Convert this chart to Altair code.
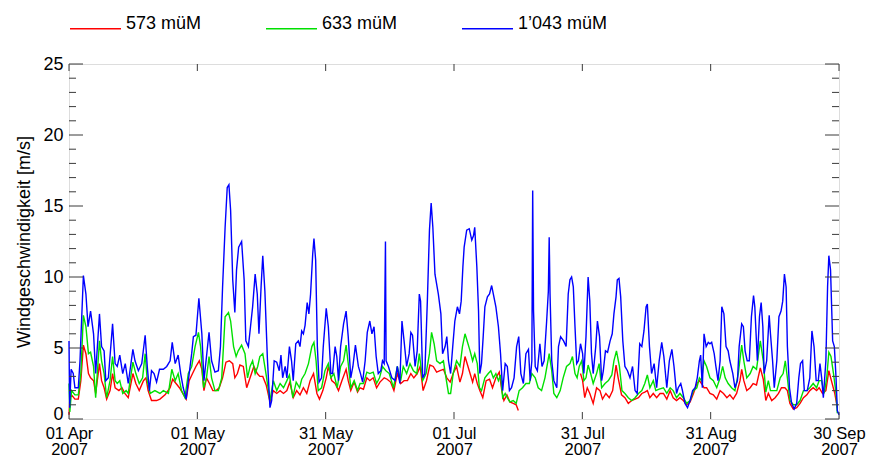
import json
import altair as alt
import pandas as pd

# ---------------- data ----------------
series_names = ["573 müM", "633 müM", "1’043 müM"]
series_colors = ["#ff0000", "#00e000", "#0000ff"]

# days since 01 Apr 2007 00:00
red_days = [0.0, 0.2, 0.6, 1.4, 2.2, 2.8, 3.4, 4.0, 4.6, 5.1, 5.8, 6.3, 7.2, 7.7, 8.3, 8.9, 9.7, 10.3, 10.9, 11.8,
            12.5, 13.2, 14.0, 15.1, 15.8, 16.6, 17.6, 18.2, 18.7, 19.5, 20.7, 21.5, 22.7, 23.9, 24.5, 25.3, 26.1, 26.9,
            27.7, 28.4, 29.2, 30.0, 30.8, 31.4, 31.9, 32.5, 33.2, 34.0, 34.8, 35.5, 36.3, 37.1, 37.9, 38.7, 39.2, 39.8,
            40.4, 41.2, 42.0, 42.8, 43.7, 44.5, 45.1, 45.8, 46.6, 47.5, 48.3, 49.1, 49.9, 50.7, 51.5, 52.2, 53.0, 53.8,
            54.6, 55.4, 56.2, 57.0, 57.8, 58.6, 59.2, 60.0, 60.8, 61.3, 62.1, 62.9, 63.7, 64.5, 65.5, 66.0, 66.6, 67.4,
            68.2, 68.8, 69.6, 70.4, 71.1, 71.9, 72.7, 73.5, 74.5, 75.2, 76.0, 76.8, 77.6, 78.4, 79.2, 80.0, 80.8, 81.5,
            82.3, 83.0, 83.7, 84.5, 85.3, 86.1, 86.9, 87.7, 88.5, 89.3, 90.1, 90.8, 91.6, 92.4, 93.0, 93.6, 94.2, 94.8,
            95.4, 95.9, 96.5, 97.1, 97.8, 98.6, 99.4, 100.1, 100.9, 101.7, 102.3, 102.8, 103.5, 104.2, 105.0, 105.7,
            106.2,
            120.9, 121.4, 121.9, 122.5, 123.1, 123.9, 124.7, 125.5, 126.1, 126.9, 127.7, 128.5, 129.3, 129.8, 130.6,
            131.4, 132.2, 133.0, 133.8, 134.6, 135.4, 136.1, 136.7, 137.3, 138.1, 138.9, 139.7, 140.5, 141.3, 142.1,
            142.8, 143.6, 144.4, 145.2, 146.0, 146.8, 147.6, 148.4, 149.0, 149.5, 150.1, 150.7, 151.5, 152.3, 153.1,
            153.9, 154.7, 155.5, 156.2, 157.0, 157.8, 158.6, 159.0, 159.5, 160.2, 161.0, 161.7, 162.5, 163.4, 164.1,
            164.7, 165.3, 166.1, 166.9, 167.7, 168.4, 169.2, 169.8, 170.4, 171.2, 172.0, 172.8, 173.6, 174.4, 175.1,
            175.9, 176.7, 177.3, 178.1, 178.9, 179.6, 180.2, 181.0, 181.6]
red_vals = [0.3, 1.5, 1.7, 1.4, 1.4, 2.7, 5.2, 4.6, 3.2, 2.9, 2.7, 1.8, 3.9, 2.7, 2.2, 1.4, 2.0, 3.2, 2.2, 2.0,
            2.2, 1.8, 1.5, 3.2, 2.5, 2.0, 2.7, 2.9, 2.0, 1.3, 1.3, 1.4, 1.7, 2.2, 2.8, 2.5, 2.2, 1.8,
            1.4, 2.7, 3.2, 3.7, 4.1, 3.5, 2.0, 2.9, 2.5, 2.0, 2.0, 2.2, 2.9, 4.0, 4.1, 3.9, 2.9, 3.2,
            3.8, 3.7, 2.2, 2.9, 3.7, 3.2, 3.0, 3.0, 2.4, 1.2, 2.0, 1.8, 2.0, 1.8, 2.0, 2.6, 1.5, 2.0,
            1.7, 2.2, 1.8, 2.7, 3.2, 1.8, 1.4, 2.0, 2.9, 3.7, 2.7, 2.5, 2.0, 2.7, 3.5, 2.7, 2.0, 2.6,
            1.9, 2.2, 2.1, 2.9, 2.7, 2.9, 2.2, 2.6, 2.9, 2.8, 2.6, 2.0, 3.2, 2.5, 2.7, 2.7, 3.2, 2.9,
            3.2, 3.7, 2.0, 2.7, 3.8, 3.7, 3.3, 3.4, 3.5, 2.9, 2.6, 3.2, 3.7, 2.6, 3.2, 4.4, 3.8, 3.2,
            2.6, 3.2, 2.5, 2.0, 1.5, 2.7, 2.8, 2.2, 2.9, 3.3, 2.0, 1.3, 1.7, 1.2, 1.1, 1.0,
            0.6,
            3.2, 2.7, 1.5, 2.2, 1.8, 1.1, 2.2, 2.0, 1.4, 1.8, 1.5, 2.0, 3.8, 2.9, 1.7,
            1.5, 1.1, 1.3, 1.4, 1.5, 1.8, 1.9, 2.0, 1.5, 1.8, 1.5, 1.8, 1.8, 1.4, 2.0,
            1.5, 1.3, 1.5, 1.3, 1.0, 1.2, 1.8, 2.5, 2.7, 2.5, 2.2, 2.2, 1.8, 1.7, 1.4,
            2.0, 1.8, 1.5, 1.7, 1.4, 1.8, 2.7, 3.5, 2.7, 2.0, 2.2, 2.5, 2.4, 3.6, 2.8,
            1.3, 1.8, 1.3, 1.5, 1.8, 2.2, 2.2, 2.0, 1.1, 0.7, 0.8, 1.1, 1.5, 1.7, 2.0,
            2.2, 2.0, 2.2, 1.8, 2.0, 3.4, 2.7, 1.8, 0.8]

green_days = [0.0, 0.2, 0.6, 1.4, 2.2, 2.8, 3.4, 4.0, 4.6, 5.1, 5.8, 6.3, 7.2, 7.7, 8.3, 8.9, 9.7, 10.3, 10.9, 11.4,
              12.0, 12.7, 13.5, 14.0, 15.1, 15.8, 16.6, 17.4, 18.0, 18.5, 19.2, 20.3, 21.5, 22.3, 23.5, 24.3, 25.1,
              25.8, 26.6, 27.4, 28.2, 29.0, 29.8, 30.6, 31.1, 31.8, 32.5, 33.1, 33.7, 34.5, 35.3, 36.1, 36.9, 37.7,
              38.2, 38.9, 39.5, 40.0, 40.8, 41.6, 42.2, 42.8, 43.4, 44.0, 44.6, 45.1, 45.8, 46.5, 47.5, 48.3, 49.1,
              49.9, 50.7, 51.5, 52.1, 52.9, 53.7, 54.5, 55.0, 55.8, 56.6, 57.4, 57.9, 58.4, 58.9, 59.7, 60.5, 61.3,
              61.9, 62.6, 63.4, 64.2, 64.9, 65.5, 66.0, 66.6, 67.4, 68.2, 68.8, 69.6, 70.4, 71.1, 71.9, 72.7, 73.4,
              74.1, 74.9, 75.7, 76.7, 77.6, 78.4, 79.0, 79.8, 80.6, 81.4, 82.2, 82.8, 83.6, 84.4, 85.2, 85.7, 86.3,
              86.9, 87.7, 88.5, 89.1, 89.7, 90.2, 90.8, 91.6, 92.4, 93.0, 93.6, 94.2, 94.8, 95.4, 95.9, 96.5, 97.0,
              97.5, 98.3, 99.1, 99.7, 100.3, 100.9, 101.5, 102.0, 102.5, 103.1, 103.6, 104.2, 105.0, 105.7, 106.4,
              107.2, 108.0, 108.8, 109.4, 110.2, 110.9, 111.7, 112.5, 113.5, 114.1, 114.6, 115.3, 116.1, 116.8,
              117.6, 118.4, 119.0, 119.6, 120.1, 120.6, 121.2, 121.7, 122.2, 122.7, 123.3, 123.9, 124.7, 125.3,
              125.9, 126.7, 127.5, 128.3, 128.8, 129.4, 130.1, 130.7, 131.4, 132.2, 133.0, 133.8, 134.6, 135.4,
              136.1, 136.7, 137.3, 138.1, 138.7, 139.5, 140.5, 141.3, 142.1, 142.8, 143.6, 144.4, 145.2, 146.0,
              146.8, 147.6, 148.4, 149.0, 149.5, 150.1, 150.7, 151.5, 152.3, 153.1, 153.9, 154.5, 155.1, 155.8,
              156.6, 157.4, 158.2, 159.0, 159.5, 160.2, 161.0, 161.7, 162.5, 163.4, 164.1, 164.7, 165.3, 165.8,
              166.5, 167.3, 168.1, 168.8, 169.3, 169.8, 170.4, 171.2, 172.0, 172.8, 173.6, 174.4, 175.1, 175.9,
              176.7, 177.3, 177.9, 178.5, 179.1, 179.6, 180.1, 180.7, 181.3, 181.6]
green_vals = [2.5, 0.5, 2.0, 1.7, 1.7, 3.2, 7.3, 6.5, 4.6, 4.7, 3.7, 1.5, 5.5, 4.1, 3.2, 1.5, 2.7, 4.4, 2.7, 2.5,
              2.7, 1.8, 2.0, 1.8, 4.0, 3.2, 2.5, 2.9, 4.6, 2.7, 1.8, 2.0, 1.8, 2.0, 1.8, 3.5, 2.7,
              3.2, 2.0, 1.5, 3.2, 3.7, 5.1, 6.1, 5.1, 2.2, 2.9, 4.4, 2.9, 2.0, 2.0, 2.9, 7.2, 7.5,
              6.9, 5.1, 4.4, 4.8, 5.2, 4.6, 2.9, 3.7, 4.1, 3.2, 3.7, 4.4, 4.6, 3.3, 1.3, 2.7, 2.0,
              2.5, 2.2, 2.7, 3.1, 1.5, 2.6, 2.2, 2.8, 3.2, 3.9, 5.1, 5.4, 4.1, 2.0, 2.2, 3.4, 3.9,
              2.9, 3.2, 2.2, 3.7, 4.1, 5.2, 3.9, 2.2, 2.7, 2.0, 2.5, 2.5, 3.3, 3.2, 3.3, 2.5, 2.9,
              3.7, 3.4, 3.2, 2.2, 3.7, 2.7, 3.7, 3.2, 3.9, 3.4, 3.2, 4.6, 2.7, 3.2, 4.6, 6.1, 5.3,
              4.1, 3.9, 4.1, 2.9, 1.8, 1.8, 3.2, 4.1, 3.7, 5.1, 6.0, 5.4, 4.8, 4.1, 4.6, 3.9, 2.2,
              2.0, 2.9, 3.2, 3.4, 2.9, 3.2, 2.7, 3.1, 1.5, 1.8, 1.5, 1.2, 1.3, 1.1, 2.0,
              2.2, 2.5, 2.5, 3.2, 2.9, 2.2, 2.0, 2.9, 4.6, 3.4, 1.8, 1.5, 2.0, 2.9,
              3.7, 3.9, 4.4, 3.2, 2.9, 3.7, 4.1, 2.7, 2.9, 3.8, 3.2, 2.5, 3.2, 3.9,
              2.2, 2.5, 2.7, 3.1, 4.1, 4.8, 3.7, 2.0, 1.8, 1.5, 1.3, 1.5, 1.8, 2.0,
              2.5, 3.1, 2.2, 2.7, 2.0, 2.1, 2.2, 1.8, 2.2, 2.0, 1.5, 1.8, 1.5, 1.1,
              1.3, 2.0, 2.2, 2.9, 2.7, 4.1, 3.7, 2.9, 2.7, 2.2, 2.9, 3.7, 2.9, 2.5,
              2.2, 2.0, 3.2, 5.2, 4.1, 2.9, 3.2, 3.7, 3.5, 5.5, 4.1, 1.9, 2.7, 2.0,
              2.0, 2.0, 2.9, 3.2, 4.1, 2.9, 1.3, 1.0, 1.0, 1.3, 2.0, 2.0, 2.2, 2.5,
              2.2, 2.7, 2.7, 1.8, 2.9, 4.7, 4.4, 3.2, 1.8, 0.4]

blue_days = [0.0, 0.15, 0.5, 1.0, 1.4, 2.2, 2.6, 3.4, 4.0, 4.5, 5.1, 5.8, 6.3, 7.2, 7.7, 8.3, 8.7, 9.3, 10.3, 10.9,
             11.4, 12.0, 12.7, 13.3, 14.0, 15.1, 15.6, 16.4, 17.2, 18.0, 18.5, 19.0, 19.5, 20.1, 20.7, 21.4, 22.3,
             23.1, 23.9, 24.4, 25.1, 25.8, 26.4, 27.0, 27.7, 28.2, 29.0, 29.4, 30.0, 30.7, 31.4, 31.9, 32.5, 33.1,
             33.7, 34.5, 35.3, 35.8, 36.3, 36.9, 37.4, 37.8, 38.2, 38.7, 39.2, 39.6, 40.1, 40.8, 41.4, 41.8, 42.4,
             42.9, 43.4, 44.0, 44.5, 44.9, 45.4, 45.8, 46.3, 46.9, 47.5, 47.9, 48.5, 49.1, 49.7, 50.1, 50.5, 51.1,
             51.5, 52.1, 52.6, 53.0, 53.6, 54.2, 54.6, 55.0, 55.4, 55.8, 56.3, 56.7, 57.1, 57.6, 57.9, 58.3, 58.7,
             59.1, 59.7, 60.1, 60.8, 61.3, 61.9, 62.3, 62.9, 63.3, 63.7, 64.2, 64.9, 65.5, 66.0, 66.6, 67.1, 67.7,
             68.4, 68.9, 69.4, 70.0, 70.5, 71.1, 71.6, 72.1, 72.6, 73.1, 73.7, 74.1, 74.5, 74.8, 74.95, 75.5, 76.3,
             77.1, 77.6, 78.2, 78.7, 79.2, 79.8, 80.4, 80.8, 81.2, 81.8, 82.3, 82.8, 83.1, 83.6, 84.1, 84.7, 85.2,
             85.6, 86.0, 86.5, 87.3, 87.9, 88.3, 88.9, 89.3, 89.7, 90.2, 90.7, 91.2, 91.8, 92.3, 92.7, 93.1, 93.4,
             94.0, 94.6, 95.2, 95.6, 95.9, 96.4, 96.8, 97.1, 97.5, 97.9, 98.3, 98.9, 99.4, 99.9, 100.3, 100.9,
             101.5, 102.0, 102.5, 103.1, 103.6, 104.1, 104.6, 105.2, 105.8, 106.3, 106.8, 107.4, 108.0, 108.6,
             109.0, 109.4, 109.6, 109.8, 110.2, 110.7, 111.3, 111.8, 112.3, 112.9, 113.3, 113.5, 113.7, 114.1,
             114.6, 115.3, 115.7, 116.2, 116.9, 117.5, 118.0, 118.4, 118.8, 119.2, 119.6, 120.0, 120.4, 120.9,
             121.4, 121.7, 122.2, 122.7, 123.1, 123.5, 123.9, 124.5, 124.9, 125.4, 125.9, 126.3, 126.8, 127.3,
             127.9, 128.4, 128.8, 129.3, 129.6, 130.0, 130.4, 130.9, 131.4, 132.0, 132.6, 133.2, 133.8, 134.3,
             134.9, 135.4, 135.9, 136.4, 136.7, 137.2, 137.7, 138.3, 138.9, 139.5, 140.1, 140.6, 141.3, 141.9,
             142.5, 143.0, 143.6, 144.0, 144.6, 145.0, 145.6, 146.2, 146.8, 147.4, 148.0, 148.5, 149.0, 149.3,
             149.7, 150.1, 150.6, 151.1, 151.5, 151.9, 152.5, 152.9, 153.4, 153.9, 154.3, 154.8, 155.3, 155.8,
             156.2, 156.9, 157.4, 158.0, 158.4, 159.0, 159.4, 159.8, 160.3, 160.8, 161.3, 161.8, 162.1, 162.7,
             163.2, 163.6, 164.0, 164.3, 164.9, 165.5, 165.8, 166.3, 166.7, 167.3, 167.8, 168.3, 168.7, 169.1,
             169.5, 169.8, 170.3, 170.8, 171.4, 172.0, 172.5, 172.9, 173.4, 173.8, 174.5, 175.1, 175.6, 176.1,
             176.6, 177.1, 177.5, 177.9, 178.3, 178.9, 179.3, 179.6, 180.0, 180.5, 180.9, 181.3, 181.6, 182.0]
blue_vals = [5.5, 0.8, 3.5, 3.2, 2.2, 2.2, 4.1, 10.1, 8.8, 6.5, 7.6, 6.0, 3.2, 7.4, 5.1, 4.8, 2.7, 2.9, 6.7, 3.9,
             3.7, 4.5, 3.2, 3.9, 2.5, 4.9, 4.1, 3.4, 3.9, 5.9, 3.7, 2.0, 3.4, 3.2, 2.6, 3.5, 3.5,
             3.7, 4.1, 5.4, 3.9, 4.5, 3.2, 2.2, 1.4, 2.7, 4.6, 5.8, 5.9, 8.5, 6.0, 2.7, 4.4, 6.1,
             4.1, 3.3, 3.4, 5.1, 9.3, 13.5, 16.3, 16.5, 14.7, 9.8, 7.5, 10.5, 12.1, 12.5, 9.8, 5.5, 5.1,
             6.5, 7.9, 10.2, 8.8, 6.0, 9.3, 11.5, 9.0, 4.2, 0.8, 1.3, 4.1, 4.0, 3.4, 4.5, 2.9, 3.7,
             2.9, 5.1, 4.1, 2.7, 5.3, 5.5, 5.1, 6.2, 6.0, 6.6, 8.2, 7.4, 8.8, 11.6, 12.7, 11.2, 5.1,
             2.6, 2.9, 5.1, 7.8, 6.5, 3.2, 3.2, 5.1, 4.4, 2.7, 5.1, 6.7, 7.6, 5.8, 2.9, 3.7, 5.2,
             3.7, 3.2, 2.6, 4.1, 6.1, 6.9, 6.0, 6.5, 4.4, 3.2, 3.4, 4.1, 3.9, 12.5, 4.1, 3.7, 2.9,
             2.7, 3.7, 2.5, 6.9, 5.5, 3.7, 4.6, 6.1, 5.9, 3.7, 4.8, 8.8, 8.3, 2.9, 3.2, 8.3, 13.3,
             15.2, 13.5, 10.2, 8.8, 7.4, 4.6, 5.1, 5.8, 4.1, 3.2, 5.1, 6.9, 7.9, 7.4, 8.3, 10.7, 12.1,
             13.3, 13.4, 12.6, 12.9, 13.5, 10.7, 7.6, 3.2, 3.9, 5.8, 7.9, 8.6, 8.8, 9.4, 8.8, 7.9,
             6.5, 4.6, 2.0, 3.9, 3.7, 2.0, 2.2, 2.9, 5.1, 5.8, 3.2, 2.5, 4.6, 4.9,
             2.7, 4.1, 16.1, 7.6, 3.7, 3.4, 5.3, 3.7, 4.1, 6.9, 9.0, 12.8, 8.8, 4.1,
             2.7, 2.2, 5.1, 5.8, 5.5, 5.1, 8.8, 9.8, 10.0, 9.3, 6.5, 3.9, 4.1, 5.3,
             4.6, 3.2, 5.8, 10.0, 8.3, 4.6, 3.2, 5.1, 6.9, 5.8, 2.7, 3.4, 4.8, 4.7,
             5.5, 6.0, 7.4, 8.6, 9.8, 9.9, 8.6, 5.5, 3.7, 3.4, 2.9, 3.7, 2.0, 1.8,
             5.3, 5.1, 6.2, 7.9, 8.1, 5.1, 3.2, 3.9, 2.2, 4.1, 5.4, 4.4, 2.2, 4.1,
             4.9, 3.7, 1.8, 2.2, 2.5, 2.0, 1.1, 0.8, 1.3, 2.0, 2.2, 2.9, 4.1, 4.5,
             2.2, 6.0, 5.1, 5.4, 5.3, 5.4, 4.6, 3.7, 2.7, 4.1, 7.9, 7.4, 5.1, 4.8,
             4.1, 3.2, 2.2, 2.7, 5.1, 6.7, 6.5, 4.8, 4.1, 4.1, 7.2, 8.7, 7.9, 4.1,
             7.2, 8.2, 6.5, 3.2, 4.1, 7.3, 6.0, 4.1, 2.2, 4.1, 7.2, 7.6, 8.3, 10.2,
             9.3, 5.1, 2.2, 1.1, 0.7, 1.1, 2.9, 3.9, 4.1, 2.0, 2.0, 2.9, 6.2, 5.1,
             2.7, 2.7, 3.9, 2.9, 1.5, 4.1, 9.3, 11.5, 10.5, 5.5, 5.1, 2.9, 0.6, 0.3]

x_tick_days = [0, 30.333, 60.667, 91, 121.333, 151.667, 182]
x_tick_labels = ["01 Apr", "01 May", "31 May", "01 Jul", "31 Jul", "31 Aug", "30 Sep"]
x_tick_year = "2007"
y_tick_major = [0, 5, 10, 15, 20, 25]
y_tick_minor = [v for v in range(0, 26) if v % 5 != 0]
y_title = "Windgeschwindigkeit [m/s]"

# ---------------- build tables ----------------
def make_df(days, vals, name):
    df = pd.DataFrame({"day": days, "val": vals})
    df["series"] = name
    df["seg"] = (df["day"].diff().fillna(0) > 5).cumsum()
    return df

dfs = [make_df(red_days, red_vals, series_names[0]),
       make_df(green_days, green_vals, series_names[1]),
       make_df(blue_days, blue_vals, series_names[2])]

FONT = "Liberation Sans"
AX = "#3a3a3a"
W, H = 770, 355

xscale = alt.Scale(domain=[0, 182], nice=False, zero=False)
yscale = alt.Scale(domain=[0, 25], nice=False)

label_expr = "[" + json.dumps(x_tick_labels) + "[round(datum.value * 6 / 182)], '" + x_tick_year + "']"

x_axis = alt.Axis(values=x_tick_days, labelExpr=label_expr, tickSize=0, grid=False,
                  domain=False, labelFont=FONT, labelFontSize=16.5, labelColor="#000",
                  labelPadding=6, labelLineHeight=16.5, labelBaseline="top", labelFlush=False,
                  labelOverlap=False, title=None)
y_axis = alt.Axis(values=y_tick_major, tickSize=0, grid=False, domain=False,
                  labelFont=FONT, labelFontSize=18, labelColor="#000", labelPadding=6,
                  labelBaseline={"condition": {"test": "datum.value == 0", "value": "alphabetic"},
                                 "value": "middle"},
                  labelOverlap=False,
                  title=y_title, titleFont=FONT, titleFontSize=18, titleFontWeight="normal",
                  titleColor="#000", titleAngle=-90, titleX=-40, titleY=H / 2,
                  titleAlign="center", titleBaseline="alphabetic")

x_enc = alt.X("day:Q", scale=xscale, axis=x_axis)
y_enc = alt.Y("val:Q", scale=yscale, axis=y_axis)

color_scale = alt.Scale(domain=series_names, range=series_colors)
legend = alt.Legend(orient="none", legendX=0, legendY=-62, direction="horizontal", columns=3,
                    title=None, symbolType="stroke", symbolSize=2601, symbolStrokeWidth=1.5,
                    labelFont=FONT, labelFontSize=18, labelColor="#000", labelOffset=4,
                    labelBaseline="alphabetic", columnPadding=61, padding=0)

layers = []
for i, df in enumerate(dfs):
    layers.append(
        alt.Chart(df).mark_line(strokeWidth=1.4).encode(
            x=x_enc, y=y_enc,
            color=alt.Color("series:N", scale=color_scale, legend=legend, sort=series_names),
            detail="seg:N",
        )
    )

# inward tick marks (left / right: major and minor; bottom / top: major)
ymaj = pd.DataFrame({"val": y_tick_major})
ymin = pd.DataFrame({"val": y_tick_minor})
xt = pd.DataFrame({"day": x_tick_days})

tick_style = dict(color=AX, strokeWidth=1)
ticks = [
    alt.Chart(ymaj).mark_rule(**tick_style).encode(y=y_enc, x=alt.value(0), x2=alt.value(14)),
    alt.Chart(ymin).mark_rule(**tick_style).encode(y=y_enc, x=alt.value(0), x2=alt.value(7)),
    alt.Chart(ymaj).mark_rule(**tick_style).encode(y=y_enc, x=alt.value(W), x2=alt.value(W - 14)),
    alt.Chart(ymin).mark_rule(**tick_style).encode(y=y_enc, x=alt.value(W), x2=alt.value(W - 7)),
    alt.Chart(xt).mark_rule(**tick_style).encode(x=x_enc, y=alt.value(H), y2=alt.value(H - 7)),
    alt.Chart(xt).mark_rule(**tick_style).encode(x=x_enc, y=alt.value(0), y2=alt.value(7)),
]

chart = alt.layer(*layers, *ticks).properties(
    width=W, height=H,
    autosize=alt.AutoSizeParams(type="none"),
    padding={"left": 69, "top": 64, "right": 30, "bottom": 40},
    background="white",
).configure_view(stroke=AX, strokeWidth=1.2).configure(font=FONT)

chart.save("out.html", embed_options={"renderer": "svg", "actions": False})
